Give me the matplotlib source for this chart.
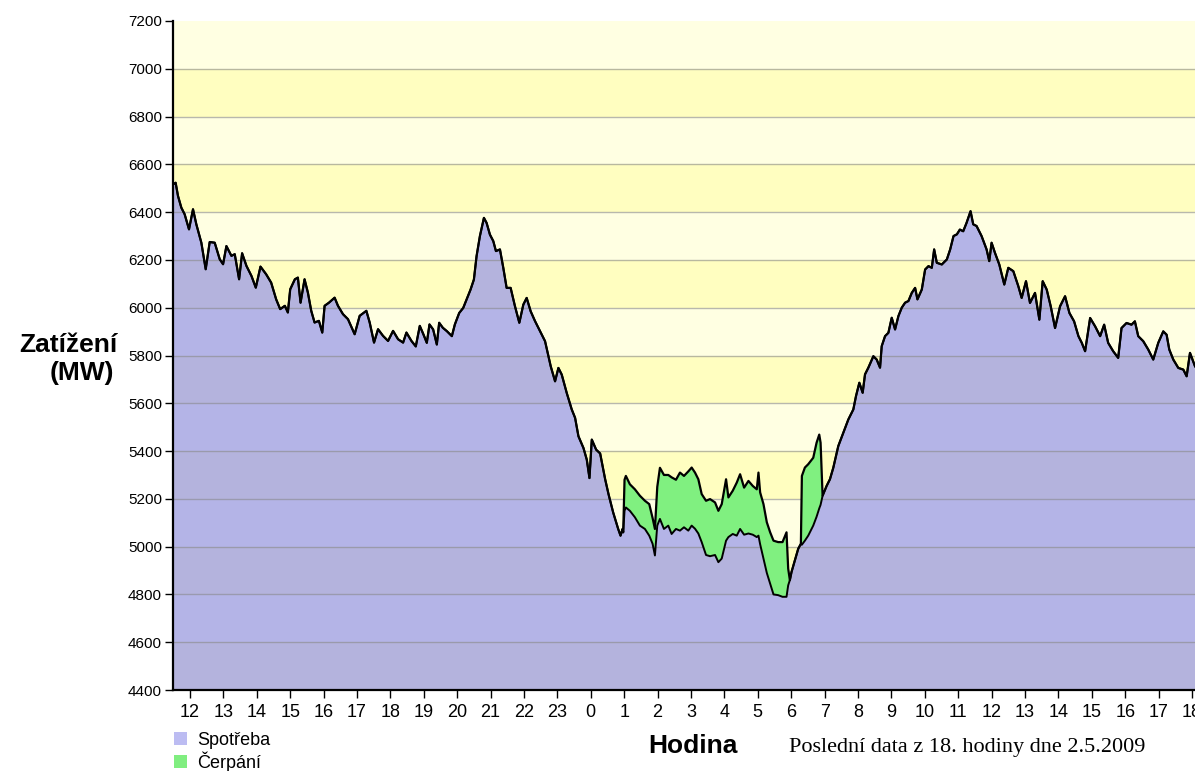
import numpy as np
import matplotlib.pyplot as plt
from matplotlib.patches import Rectangle

# cas v hodinach od 12:00 (1.5.2009), zatizeni v MW
cas = [
    -0.51, -0.43, -0.36, -0.26, -0.16, -0.03, 0.09, 0.19, 0.34, 0.47,
    0.59, 0.74, 0.89, 0.99, 1.09, 1.24, 1.34, 1.47, 1.56, 1.69,
    1.84, 1.97, 2.11, 2.28, 2.43, 2.58, 2.70, 2.84, 2.93, 3.00,
    3.14, 3.23, 3.31, 3.43, 3.53, 3.63, 3.73, 3.86, 3.96, 4.03,
    4.16, 4.33, 4.43, 4.58, 4.73, 4.93, 5.08, 5.28, 5.38, 5.51,
    5.63, 5.78, 5.93, 6.08, 6.23, 6.38, 6.48, 6.63, 6.76, 6.88,
    6.99, 7.09, 7.17, 7.28, 7.39, 7.46, 7.57, 7.69, 7.84, 7.93,
    8.06, 8.18, 8.28, 8.40, 8.50, 8.58, 8.68, 8.80, 8.88, 8.98,
    9.08, 9.16, 9.28, 9.38, 9.48, 9.60, 9.73, 9.86, 9.98, 10.08,
    10.20, 10.33, 10.48, 10.63, 10.73, 10.80, 10.93, 11.03, 11.13, 11.28,
    11.43, 11.53, 11.63, 11.78, 11.88, 11.96, 12.03, 12.16, 12.28, 12.43,
    12.53, 12.67, 12.82, 12.89, 12.95, 12.97, 13.01, 13.05, 13.17, 13.32,
    13.47, 13.62, 13.75, 13.85, 13.92, 13.99, 14.07, 14.19, 14.32, 14.42,
    14.55, 14.67, 14.79, 14.92, 15.02, 15.12, 15.22, 15.32, 15.45, 15.57,
    15.72, 15.82, 15.92, 16.05, 16.12, 16.25, 16.37, 16.47, 16.59, 16.72,
    16.85, 16.97, 17.02, 17.07, 17.17, 17.27, 17.37, 17.47, 17.61, 17.74,
    17.86, 17.91, 17.96, 18.01, 18.11, 18.21, 18.29, 18.32, 18.41, 18.51,
    18.66, 18.76, 18.84, 18.88, 18.94, 19.06, 19.16, 19.26, 19.41, 19.56,
    19.71, 19.86, 19.94, 20.04, 20.14, 20.21, 20.31, 20.46, 20.56, 20.66,
    20.71, 20.81, 20.91, 21.01, 21.11, 21.21, 21.31, 21.41, 21.51, 21.61,
    21.71, 21.78, 21.91, 22.01, 22.11, 22.21, 22.28, 22.36, 22.51, 22.66,
    22.76, 22.86, 22.96, 23.05, 23.15, 23.25, 23.37, 23.45, 23.55, 23.70,
    23.85, 23.93, 24.00, 24.10, 24.23, 24.38, 24.50, 24.65, 24.80, 24.90,
    25.03, 25.15, 25.30, 25.43, 25.53, 25.65, 25.77, 25.90, 26.05, 26.20,
    26.33, 26.47, 26.60, 26.70, 26.80, 26.95, 27.10, 27.25, 27.37, 27.49,
    27.64, 27.79, 27.89, 28.04, 28.19, 28.29, 28.39, 28.54, 28.69, 28.84,
    28.99, 29.14, 29.24, 29.32, 29.44, 29.59, 29.74, 29.84, 29.94, 30.09,
]

# spotreba bez cerpani (spodni cara)
spotreba = [
    6516, 6523, 6468, 6419, 6391, 6328, 6412, 6349, 6272, 6161,
    6275, 6272, 6203, 6182, 6258, 6217, 6224, 6119, 6228, 6175,
    6133, 6084, 6172, 6140, 6105, 6035, 5994, 6008, 5980, 6077,
    6119, 6126, 6021, 6119, 6063, 5987, 5938, 5945, 5896, 6008,
    6021, 6042, 6008, 5973, 5952, 5889, 5966, 5987, 5938, 5854,
    5910, 5882, 5861, 5903, 5868, 5854, 5896, 5861, 5838, 5924,
    5888, 5853, 5930, 5909, 5846, 5937, 5916, 5902, 5881, 5930,
    5978, 5999, 6034, 6076, 6118, 6216, 6300, 6376, 6355, 6306,
    6279, 6237, 6244, 6167, 6083, 6083, 6006, 5937, 6013, 6041,
    5985, 5944, 5902, 5860, 5797, 5755, 5692, 5748, 5720, 5643,
    5574, 5539, 5462, 5413, 5364, 5287, 5448, 5406, 5390, 5282,
    5220, 5143, 5074, 5046, 5074, 5060, 5150, 5164, 5150, 5123,
    5088, 5074, 5046, 5012, 4963, 5088, 5116, 5074, 5088, 5053,
    5074, 5067, 5081, 5067, 5088, 5075, 5055, 5019, 4965, 4960,
    4965, 4935, 4950, 5025, 5040, 5053, 5046, 5074, 5050, 5055,
    5050, 5040, 5046, 5010, 4950, 4890, 4845, 4800, 4797, 4790,
    4790, 4838, 4860, 4894, 4942, 4991, 5012, 5008, 5025, 5046,
    5088, 5125, 5160, 5175, 5213, 5254, 5282, 5330, 5421, 5477,
    5532, 5574, 5630, 5686, 5644, 5721, 5749, 5797, 5783, 5749,
    5839, 5881, 5895, 5958, 5909, 5965, 6000, 6021, 6028, 6062,
    6083, 6035, 6076, 6160, 6174, 6167, 6244, 6188, 6181, 6202,
    6244, 6300, 6307, 6327, 6320, 6355, 6404, 6349, 6342, 6300,
    6244, 6195, 6272, 6230, 6181, 6097, 6167, 6153, 6090, 6041,
    6111, 6020, 6062, 5950, 6111, 6076, 6006, 5915, 6006, 6048,
    5978, 5943, 5881, 5853, 5818, 5957, 5922, 5881, 5929, 5853,
    5818, 5790, 5915, 5936, 5929, 5943, 5881, 5860, 5825, 5783,
    5853, 5901, 5887, 5825, 5783, 5748, 5741, 5713, 5811, 5755,
]

# spotreba vcetne cerpani (horni cara) v dobe cerpani
cas_cerpani = [
    13.01, 13.05, 13.17, 13.32, 13.47, 13.62, 13.75, 13.85, 13.92, 13.99,
    14.07, 14.19, 14.32, 14.42, 14.55, 14.67, 14.79, 14.92, 15.02, 15.12,
    15.22, 15.32, 15.45, 15.57, 15.72, 15.82, 15.92, 16.05, 16.12, 16.25,
    16.37, 16.47, 16.59, 16.72, 16.85, 16.97, 17.02, 17.07, 17.17, 17.27,
    17.37, 17.47, 17.61, 17.74, 17.86, 17.91,
    18.32, 18.41, 18.51, 18.66, 18.76, 18.84, 18.88,
]
celkem_cerpani = [
    5280, 5296, 5261, 5240, 5213, 5192, 5178, 5120, 5074, 5250,
    5330, 5300, 5300, 5290, 5280, 5310, 5296, 5315, 5331, 5310,
    5282, 5220, 5192, 5199, 5185, 5150, 5178, 5282, 5206, 5234,
    5268, 5303, 5247, 5275, 5254, 5240, 5310, 5227, 5178, 5102,
    5060, 5025, 5019, 5019, 5060, 4908,
    5296, 5331, 5345, 5372, 5435, 5469, 5435,
]

y_ticks = list(range(4400, 7201, 200))
x_ticks = list(range(0, 31))
x_labels = [str((12 + h) % 24) for h in x_ticks]

W, H = 1195, 771
fig = plt.figure(figsize=(W / 100, H / 100), dpi=100)
ax = fig.add_axes([173 / W, 1 - 690 / H, 1022 / W, 669 / H])
ax.set_xlim(-0.509, 30.09)
ax.set_ylim(4400, 7200)

cas = np.array(cas)
spotreba = np.array(spotreba, dtype=float)
celkem = spotreba.copy()
for t, v in zip(cas_cerpani, celkem_cerpani):
    celkem[list(cas).index(t)] = v

# pruhy pozadi
for lo in range(4400, 7200, 200):
    svetly = ((7200 - lo) // 200) % 2 == 1
    ax.axhspan(lo, lo + 200, color="#FFFFE2" if svetly else "#FFFEC0", lw=0, zorder=0)

ax.fill_between(cas, 4400, spotreba, color="#9494EA", alpha=0.7, lw=0, zorder=1)
for y in y_ticks[1:-1]:
    ax.axhline(y, color="#8a8a8a", lw=1, alpha=0.6, zorder=2)
ax.fill_between(cas, spotreba, celkem, where=celkem > spotreba, interpolate=True,
                color="#80F080", lw=0, zorder=3)
ax.plot(cas, celkem, color="black", lw=1.6, zorder=4)
ax.plot(cas, spotreba, color="black", lw=1.4, zorder=4)

for s in ["top", "right"]:
    ax.spines[s].set_visible(False)
for s in ["left", "bottom"]:
    ax.spines[s].set_linewidth(1.6)
    ax.spines[s].set_zorder(5)

ax.set_yticks(y_ticks)
ax.set_yticklabels([str(v) for v in y_ticks], fontsize=11, family="Liberation Sans")
ax.set_xticks(x_ticks)
ax.set_xticklabels(x_labels, fontsize=13, family="Liberation Sans")
ax.tick_params(axis="y", length=6, width=1, pad=2)
ax.tick_params(axis="x", length=6, width=1, pad=4)


def fx(x):
    return x / W


def fy(y):
    return 1 - y / H


# popisek osy y
fig.text(fx(117), fy(352), "Zatížení", ha="right", va="baseline",
         fontsize=19, fontweight="bold", family="Liberation Sans")
fig.text(fx(114), fy(380), "(MW)", ha="right", va="baseline",
         fontsize=19, fontweight="bold", family="Liberation Sans")

# legenda
fig.add_artist(Rectangle((fx(174), fy(745)), 13 / W, 13 / H,
                         transform=fig.transFigure, color="#BCBCF2", lw=0))
fig.add_artist(Rectangle((fx(174), fy(768)), 13 / W, 13 / H,
                         transform=fig.transFigure, color="#80EE80", lw=0))
fig.text(fx(197), fy(745), "Spotřeba", ha="left", va="baseline",
         fontsize=13, family="Liberation Sans")
fig.text(fx(197), fy(768), "Čerpání", ha="left", va="baseline",
         fontsize=13, family="Liberation Sans")

fig.text(fx(738), fy(753), "Hodina", ha="right", va="baseline",
         fontsize=19, fontweight="bold", family="Liberation Sans")
fig.text(fx(789), fy(752), "Poslední data z 18. hodiny dne 2.5.2009", ha="left",
         va="baseline", fontsize=16, family="Liberation Serif")

plt.savefig("out.png", dpi=100)
